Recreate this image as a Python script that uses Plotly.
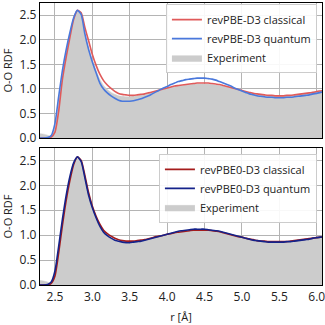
import plotly.graph_objects as go

r = [2.30, 2.35, 2.40, 2.45, 2.50, 2.55, 2.60, 2.65, 2.70, 2.75, 2.80, 2.85, 2.90, 2.95,
     3.00, 3.05, 3.10, 3.15, 3.20, 3.25, 3.30, 3.35, 3.40, 3.45, 3.50, 3.55, 3.60, 3.65,
     3.70, 3.75, 3.80, 3.85, 3.90, 3.95, 4.00, 4.05, 4.10, 4.15, 4.20, 4.25, 4.30, 4.35,
     4.40, 4.45, 4.50, 4.55, 4.60, 4.65, 4.70, 4.75, 4.80, 4.85, 4.90, 4.95, 5.00, 5.05,
     5.10, 5.15, 5.20, 5.25, 5.30, 5.35, 5.40, 5.45, 5.50, 5.55, 5.60, 5.65, 5.70, 5.75,
     5.80, 5.85, 5.90, 5.95, 6.00, 6.05, 6.10]

experiment = [0.09, 0.08, 0.06, 0.04, 0.25, 0.75, 1.30, 1.78, 2.15, 2.45, 2.58, 2.50, 2.15, 1.85,
              1.60, 1.38, 1.20, 1.07, 0.99, 0.93, 0.89, 0.86, 0.85, 0.84, 0.84, 0.85, 0.86, 0.87,
              0.89, 0.91, 0.93, 0.95, 0.97, 0.99, 1.01, 1.03, 1.05, 1.06, 1.07, 1.08, 1.09, 1.10,
              1.10, 1.10, 1.10, 1.10, 1.09, 1.08, 1.07, 1.06, 1.04, 1.02, 1.00, 0.98, 0.96, 0.94,
              0.92, 0.91, 0.89, 0.88, 0.87, 0.86, 0.86, 0.86, 0.86, 0.86, 0.86, 0.87, 0.88, 0.89,
              0.90, 0.91, 0.92, 0.94, 0.95, 0.96, 0.97]

revpbe_classical = [0.00, 0.00, 0.00, 0.02, 0.12, 0.55, 1.20, 1.65, 2.05, 2.42, 2.60, 2.55, 2.25, 1.98,
                    1.70, 1.48, 1.30, 1.17, 1.08, 1.01, 0.95, 0.91, 0.89, 0.88, 0.87, 0.87, 0.88, 0.89,
                    0.90, 0.92, 0.94, 0.96, 0.98, 1.00, 1.02, 1.04, 1.06, 1.07, 1.08, 1.09, 1.10, 1.11,
                    1.12, 1.12, 1.12, 1.12, 1.11, 1.10, 1.09, 1.07, 1.05, 1.03, 1.01, 0.99, 0.97, 0.95,
                    0.93, 0.91, 0.90, 0.89, 0.88, 0.87, 0.87, 0.86, 0.86, 0.86, 0.87, 0.87, 0.88, 0.89,
                    0.90, 0.91, 0.92, 0.93, 0.95, 0.96, 0.97]

revpbe_quantum = [0.00, 0.00, 0.01, 0.05, 0.30, 0.85, 1.38, 1.80, 2.15, 2.45, 2.60, 2.52, 2.12, 1.80,
                  1.55, 1.33, 1.12, 1.00, 0.92, 0.86, 0.81, 0.77, 0.75, 0.75, 0.75, 0.76, 0.78, 0.80,
                  0.83, 0.86, 0.90, 0.94, 0.98, 1.02, 1.05, 1.09, 1.12, 1.15, 1.17, 1.19, 1.20, 1.21,
                  1.22, 1.22, 1.22, 1.21, 1.20, 1.18, 1.15, 1.12, 1.09, 1.06, 1.02, 0.99, 0.96, 0.93,
                  0.90, 0.88, 0.86, 0.85, 0.84, 0.83, 0.83, 0.82, 0.82, 0.82, 0.83, 0.83, 0.84, 0.85,
                  0.86, 0.87, 0.88, 0.90, 0.91, 0.93, 0.94]

revpbe0_classical = [0.00, 0.00, 0.00, 0.03, 0.18, 0.65, 1.20, 1.70, 2.10, 2.42, 2.57, 2.50, 2.20, 1.85,
                     1.58, 1.38, 1.22, 1.10, 1.03, 0.98, 0.94, 0.91, 0.89, 0.88, 0.88, 0.88, 0.89, 0.90,
                     0.91, 0.93, 0.95, 0.97, 0.98, 1.00, 1.02, 1.03, 1.05, 1.06, 1.07, 1.08, 1.09, 1.10,
                     1.10, 1.10, 1.10, 1.10, 1.09, 1.08, 1.07, 1.05, 1.03, 1.01, 0.99, 0.97, 0.96, 0.94,
                     0.92, 0.91, 0.89, 0.88, 0.88, 0.87, 0.87, 0.87, 0.87, 0.87, 0.87, 0.88, 0.89, 0.90,
                     0.91, 0.92, 0.93, 0.94, 0.95, 0.96, 0.97]

revpbe0_quantum = [0.00, 0.00, 0.01, 0.06, 0.28, 0.78, 1.32, 1.80, 2.18, 2.45, 2.57, 2.48, 2.15, 1.80,
                   1.55, 1.35, 1.18, 1.06, 0.99, 0.94, 0.90, 0.88, 0.86, 0.85, 0.85, 0.86, 0.87, 0.88,
                   0.90, 0.92, 0.94, 0.96, 0.98, 1.00, 1.02, 1.04, 1.06, 1.08, 1.09, 1.10, 1.11, 1.12,
                   1.12, 1.12, 1.12, 1.11, 1.10, 1.09, 1.08, 1.06, 1.04, 1.02, 1.00, 0.98, 0.96, 0.94,
                   0.92, 0.90, 0.89, 0.88, 0.87, 0.86, 0.86, 0.86, 0.86, 0.86, 0.87, 0.87, 0.88, 0.89,
                   0.90, 0.91, 0.92, 0.94, 0.95, 0.96, 0.97]

x_ticks = [2.5, 3.0, 3.5, 4.0, 4.5, 5.0, 5.5, 6.0]
y_ticks = [0.0, 0.5, 1.0, 1.5, 2.0, 2.5]

FONT = "Open Sans"
GRAY = "#cccccc"

fig = go.Figure()

panels = [
    ("y", "legend", revpbe_classical, revpbe_quantum, "revPBE-D3", "#e05a5a", "#4a78dc"),
    ("y2", "legend2", revpbe0_classical, revpbe0_quantum, "revPBE0-D3", "#a51c1c", "#14228a"),
]
for i, (ya, lg, cl, qu, name, c1, c2) in enumerate(panels):
    xa = "x" if i == 0 else "x2"
    fig.add_trace(go.Scatter(x=r, y=experiment, mode="lines", fill="tozeroy",
                             fillcolor=GRAY, line=dict(color=GRAY, width=0.5, shape="spline", smoothing=0.6),
                             name="Experiment", legend=lg, legendrank=3, xaxis=xa, yaxis=ya))
    fig.add_trace(go.Scatter(x=r, y=cl, mode="lines", line=dict(color=c1, width=1.6, shape="spline", smoothing=0.6),
                             name=name + " classical", legend=lg, legendrank=1, xaxis=xa, yaxis=ya))
    fig.add_trace(go.Scatter(x=r, y=qu, mode="lines", line=dict(color=c2, width=1.6, shape="spline", smoothing=0.6),
                             name=name + " quantum", legend=lg, legendrank=2, xaxis=xa, yaxis=ya))

axis_common = dict(showline=True, linecolor="black", linewidth=1.2, mirror=True,
                   showgrid=True, gridcolor="#b4b4b4", gridwidth=1, zeroline=False,
                   ticks="", automargin=False, ticklabeloverflow="allow",
                   tickfont=dict(size=12, color="#222"))

legend_common = dict(bgcolor="rgba(255,255,255,0.9)", bordercolor="#cccccc", borderwidth=1,
                     font=dict(size=11, family=FONT, color="#222"), xanchor="right", yanchor="top",
                     tracegroupgap=0, itemwidth=30)

fig.update_layout(
    template="none",
    width=325, height=325,
    margin=dict(l=40, r=3, t=3, b=40, autoexpand=False),
    paper_bgcolor="white", plot_bgcolor="white",
    font=dict(family=FONT, size=11, color="#222"),
    showlegend=True,
    xaxis=dict(axis_common, range=[2.3, 6.07], tickvals=x_ticks, showticklabels=False,
               anchor="y", matches="x2"),
    xaxis2=dict(axis_common, range=[2.3, 6.07], tickvals=x_ticks, tickformat=".1f", anchor="y2",
                title=dict(text="r [Å]", font=dict(size=11), standoff=9)),
    yaxis=dict(axis_common, range=[0, 2.75], tickvals=y_ticks, tickformat=".1f",
               domain=[0.521, 1.0], anchor="x",
               title=dict(text="O-O RDF", font=dict(size=11), standoff=4)),
    yaxis2=dict(axis_common, range=[0, 2.75], tickvals=y_ticks, tickformat=".1f",
                domain=[0.0, 0.486], anchor="x2",
                title=dict(text="O-O RDF", font=dict(size=11), standoff=4)),
    legend=dict(legend_common, x=0.982, y=0.996),
    legend2=dict(legend_common, x=0.982, y=0.465),
)

fig.write_html("out.html", config={"displayModeBar": False, "staticPlot": True},
               post_script="document.body.style.margin='0';document.body.style.overflow='hidden';")
